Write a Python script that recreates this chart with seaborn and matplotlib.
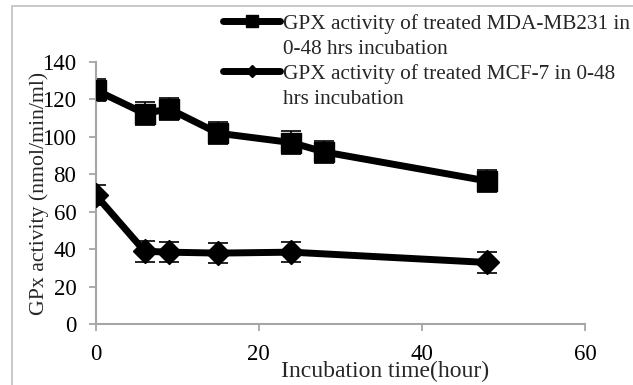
import matplotlib
matplotlib.use("Agg")
import matplotlib.pyplot as plt
from matplotlib.lines import Line2D
import seaborn as sns
import pandas as pd

# Incubation time points (hours) and GPx activity (nmol/min/ml)
hours_mda = [0, 6, 9, 15, 24, 28, 48]
gpx_mda = [125, 112.5, 115, 102, 97, 92, 76.5]
err_mda = [6, 6, 6, 6, 6, 6, 6]

hours_mcf = [0, 6, 9, 15, 24, 48]
gpx_mcf = [69, 39, 38.5, 38, 38.5, 33]
err_mcf = [5.5, 5.5, 5.5, 5.5, 5.5, 5.5]

# legend text, one list entry per printed line
label_mda = ["GPX activity of treated MDA-MB231 in", "0-48 hrs incubation"]
label_mcf = ["GPX activity of treated MCF-7 in 0-48", "hrs incubation"]

x_ticks = [0, 20, 40, 60]
y_ticks = [0, 20, 40, 60, 80, 100, 120, 140]

df_mda = pd.DataFrame({"hour": hours_mda, "gpx": gpx_mda})
df_mcf = pd.DataFrame({"hour": hours_mcf, "gpx": gpx_mcf})

sns.set_theme(style="white")
plt.rcParams["font.family"] = ["Liberation Serif", "DejaVu Serif"]

fig = plt.figure(figsize=(6.33, 3.85), dpi=100)
ax = fig.add_axes([95.7 / 633, 1 - 324.3 / 385, (585 - 95.7) / 633, (324.3 - 62) / 385])

axis_grey = "#a6a6a6"
line_w = 5.0

# error bars behind the lines
for hx, gy, ee in [(hours_mda, gpx_mda, err_mda), (hours_mcf, gpx_mcf, err_mcf)]:
    ax.errorbar(hx, gy, yerr=ee, fmt="none", ecolor="black",
                elinewidth=1.2, capsize=7, capthick=1.2, zorder=2)

sns.lineplot(data=df_mda, x="hour", y="gpx", color="black", marker="s",
             linewidth=line_w, markersize=14, markeredgecolor="black",
             markeredgewidth=1, sort=False, ax=ax, zorder=3)
sns.lineplot(data=df_mcf, x="hour", y="gpx", color="black", marker="D",
             linewidth=line_w, markersize=12, markeredgecolor="black",
             markeredgewidth=1, sort=False, ax=ax, zorder=3)

ax.set_xlim(0, 60)
ax.set_ylim(0, 140)
ax.set_xticks(x_ticks)
ax.set_yticks(y_ticks)
ax.tick_params(axis="both", which="both", direction="out", length=5, width=1.3,
               color=axis_grey, labelsize=16.5, labelcolor="black",
               bottom=True, left=True)
ax.tick_params(axis="x", pad=9.5)
ax.tick_params(axis="y", pad=9)
for side in ["top", "right"]:
    ax.spines[side].set_visible(False)
for side in ["left", "bottom"]:
    ax.spines[side].set_color(axis_grey)
    ax.spines[side].set_linewidth(1.5)
ax.set_xlabel("Incubation time(hour)", fontsize=17, labelpad=-3.5)
ax.xaxis.label.set_x((385 - 95.7) / (585 - 95.7))
ax.set_ylabel("GPx activity (nmol/min/ml)", fontsize=15.7, labelpad=-5)
ax.patch.set_alpha(0)

# legend: the line sample sits beside the first text line of each entry
blank = Line2D([], [], alpha=0)
handles = [
    Line2D([], [], color="black", lw=line_w, marker="s", markersize=9), blank,
    Line2D([], [], color="black", lw=line_w, marker="D", markersize=6), blank,
]
leg = fig.legend(handles, label_mda + label_mcf, loc="upper left",
                 bbox_to_anchor=(223 / 633, 1 - 14 / 385), frameon=False,
                 fontsize=15.3, handlelength=2.7, handletextpad=0.12,
                 labelspacing=0.24, borderaxespad=0, borderpad=0)

# outer chart border
fig.add_artist(plt.Rectangle((12 / 633, -0.05), 1.2, 1 - (-0.05) - 6 / 385,
                             transform=fig.transFigure, fill=False,
                             edgecolor="#bfbfbf", linewidth=1.2))

fig.savefig("out.png", dpi=100)
